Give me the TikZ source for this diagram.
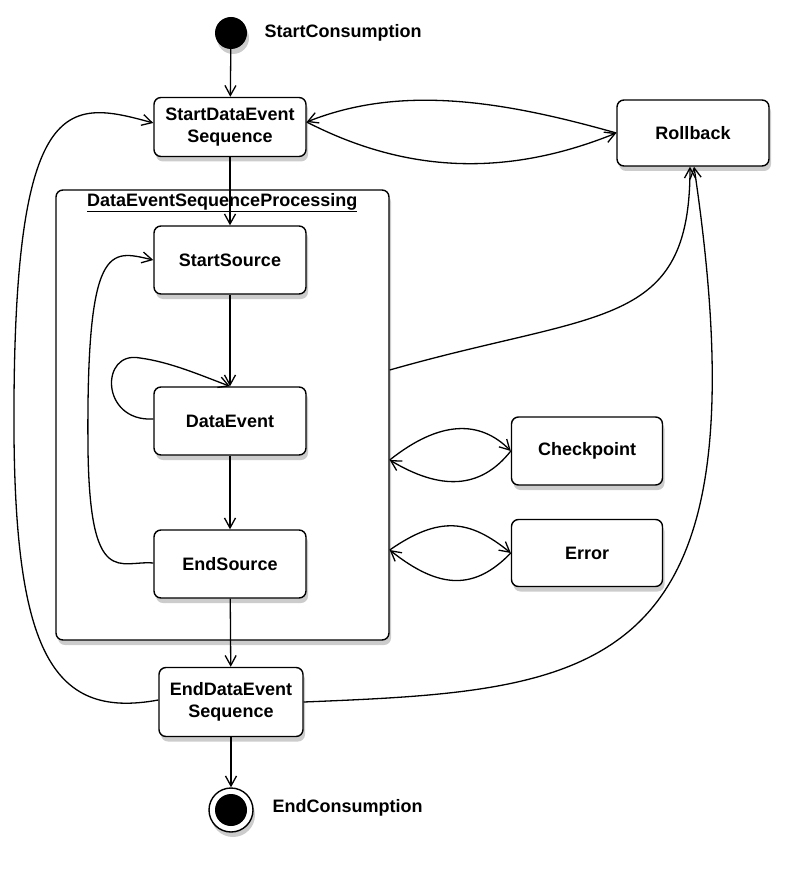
\documentclass[tikz,border=0pt]{standalone}
\usepackage{fontspec}
\setmainfont{Liberation Sans}
\usetikzlibrary{arrows.meta,shadows}
\newcommand{\myfont}{\bfseries\fontsize{18}{22}\selectfont}
\begin{document}
\begin{tikzpicture}[x=1pt,y=-1pt,
  st/.style={draw,line width=1.4pt,rounded corners=7pt,fill=white,align=center,font=\myfont,inner sep=0pt,
    drop shadow={shadow xshift=2pt,shadow yshift=-5pt,opacity=0.4}},
  ar/.style={line width=1.3pt,-{Straight Barb[length=10pt,width=11pt,line width=1.3pt]}},
  lbl/.style={font=\myfont,anchor=west}]
\useasboundingbox (0,0) rectangle (799,869);
% container
\node[st,minimum width=333pt,minimum height=450pt] (cont) at (222.5,415) {};
\node[font=\myfont,anchor=north west,inner sep=0pt] (clbl) at (87,193) {\underline{DataEventSequenceProcessing}};
% start / end
\node[circle,fill=black,minimum size=32pt,inner sep=0pt,drop shadow={shadow xshift=2pt,shadow yshift=-5pt,opacity=0.4}] (start) at (231,33) {};
\node[lbl] (startl) at (261,33) {StartConsumption};
\node[circle,draw,line width=1.4pt,fill=white,minimum size=44pt,inner sep=0pt,drop shadow={shadow xshift=2pt,shadow yshift=-5pt,opacity=0.4}] (end) at (231,810) {};
\node[circle,fill=black,minimum size=32pt,inner sep=0pt] (endin) at (231,810) {};
\node[lbl] (endl) at (269,808) {EndConsumption};
% states
\node[st,minimum width=152pt,minimum height=59pt] (sdes) at (230,127) {StartDataEvent\\Sequence};
\node[st,minimum width=152pt,minimum height=66pt] (rb) at (693,133) {Rollback};
\node[st,minimum width=152pt,minimum height=68pt] (ss) at (230,260) {StartSource};
\node[st,minimum width=152pt,minimum height=68pt] (de) at (230,421) {DataEvent};
\node[st,minimum width=152pt,minimum height=68pt] (es) at (230,564) {EndSource};
\node[st,minimum width=151pt,minimum height=68pt] (cp) at (587,451) {Checkpoint};
\node[st,minimum width=151pt,minimum height=67pt] (err) at (587,553) {Error};
\node[st,minimum width=144pt,minimum height=69pt] (edes) at (231,702) {EndDataEvent\\Sequence};
% vertical flow
\draw[ar] (start) -- (sdes);
\draw[ar] (sdes) -- (ss);
\draw[ar] (ss) -- (de);
\draw[ar] (de) -- (es);
\draw[ar] (es) -- (edes);
\draw[ar] (edes) -- (end);
% sdes <-> rollback
\draw[ar] (rb.west) .. controls (500,100) and (400,85) .. ([yshift=5pt]sdes.east);
\draw[ar] ([yshift=5pt]sdes.east) .. controls (400,170) and (500,180) .. (rb.west);
% left big loop
\draw[ar] ([yshift=2pt]edes.west) .. controls (50,720) and (12,650) .. (14,400)
  .. controls (16,90) and (70,100) .. ([yshift=4pt]sdes.west);
% inner loop
\draw[ar] ([yshift=1pt]es.west) .. controls (120,560) and (90,590) .. (88,450)
  .. controls (86,240) and (110,250) .. (ss.west);
% self loop
\draw[ar] ([yshift=2pt]de.west) .. controls (100,422) and (100,350) .. (140,358)
  .. controls (170,362) and (200,375) .. (de.north);
% container -> rollback
\draw[ar] ([yshift=45pt]cont.east) .. controls (600,310) and (690,330) .. ([xshift=-3pt]rb.south);
% edes -> rollback
\draw[ar] (edes.east) .. controls (600,690) and (770,680) .. ([xshift=1pt]rb.south);
% checkpoint
\draw[ar] ([yshift=-45pt]cont.east) .. controls (440,420) and (480,420) .. (cp.west);
\draw[ar] (cp.west) .. controls (480,490) and (440,490) .. ([yshift=-45pt]cont.east);
% error
\draw[ar] ([yshift=-135pt]cont.east) .. controls (440,515) and (470,520) .. (err.west);
\draw[ar] (err.west) .. controls (475,590) and (440,590) .. ([yshift=-135pt]cont.east);
\end{tikzpicture}
\end{document}
